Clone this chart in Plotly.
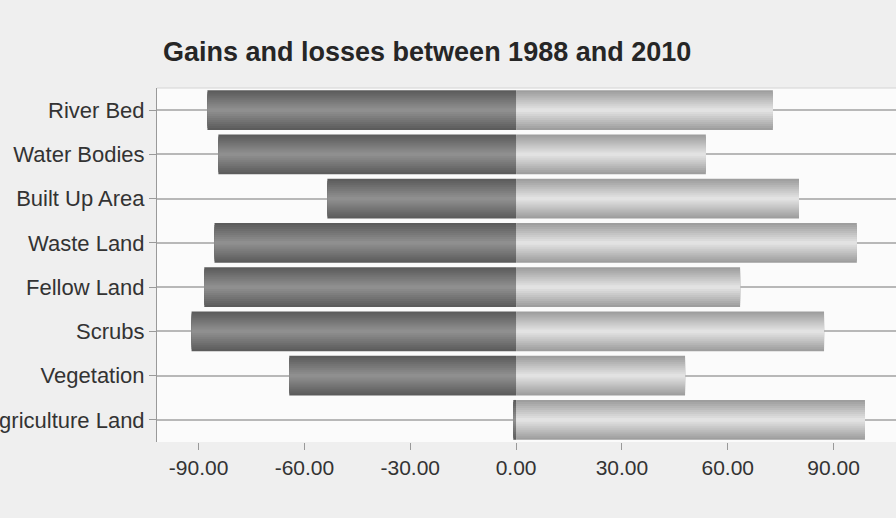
import plotly.graph_objects as go

# ---- data ----
categories = ["River Bed", "Water Bodies", "Built Up Area", "Waste Land",
              "Fellow Land", "Scrubs", "Vegetation", "Agriculture Land"]
losses = [-87.5, -84.4, -53.5, -85.5, -88.4, -92.0, -64.3, -0.8]
gains = [72.8, 53.8, 80.2, 96.6, 63.5, 87.3, 47.9, 98.9]
tick_values = [-90, -60, -30, 0, 30, 60, 90]
tick_labels = ["%.2f" % v for v in tick_values]
title_text = "Gains and losses between 1988 and 2010"


def lerp_color(c1, c2, t):
    r = round(c1[0] + (c2[0] - c1[0]) * t)
    g = round(c1[1] + (c2[1] - c1[1]) * t)
    b = round(c1[2] + (c2[2] - c1[2]) * t)
    return "rgb(%d,%d,%d)" % (r, g, b)


fig = go.Figure()

N = 10
full_width = 0.9
loss_edge, loss_mid = (92, 92, 92), (143, 143, 143)
gain_edge, gain_mid = (158, 158, 158), (226, 226, 226)

for k in range(N):
    t = k / (N - 1)
    w = full_width * (1 - k / N)
    fig.add_trace(go.Bar(
        y=categories, x=losses, orientation="h", width=w,
        marker=dict(color=lerp_color(loss_edge, loss_mid, t), line=dict(width=0)),
        showlegend=False, hoverinfo="skip" if k else "x+y"))
    fig.add_trace(go.Bar(
        y=categories, x=gains, orientation="h", width=w,
        marker=dict(color=lerp_color(gain_edge, gain_mid, t), line=dict(width=0)),
        showlegend=False, hoverinfo="skip" if k else "x+y"))

fig.update_layout(
    width=896, height=518,
    margin=dict(l=157, r=0, t=88, b=76, autoexpand=False),
    barmode="overlay",
    paper_bgcolor="#efefef",
    plot_bgcolor="#fbfbfb",
    font=dict(family="Liberation Sans, Arial, sans-serif", color="#333333", size=21),
    title=dict(text="<b>" + title_text + "</b>",
               font=dict(family="Liberation Sans, Arial, sans-serif", size=27, color="#262626"),
               xref="container", yref="container", x=163 / 896, xanchor="left",
               y=1 - 52 / 518, yanchor="middle"),
    xaxis=dict(range=[-101.8, 107.7], tickvals=tick_values, ticktext=tick_labels,
               showgrid=False, zeroline=False, showline=False,
               ticks="outside", ticklen=7, tickcolor="#999999", tickwidth=1,
               tickfont=dict(size=21, color="#333333"), automargin=False),
    yaxis=dict(categoryorder="array", categoryarray=categories, autorange="reversed",
               showgrid=True, gridcolor="#b8b8b8", gridwidth=2,
               showline=True, linecolor="#999999", linewidth=1,
               ticks="outside", ticklen=7, tickcolor="#999999",
               tickfont=dict(size=22, color="#333333"), automargin=False),
    shapes=[dict(type="line", xref="paper", yref="paper", x0=0, x1=1, y0=1, y1=1,
                 line=dict(color="#d4d4d4", width=1))],
)

fig.write_html("out.html")
